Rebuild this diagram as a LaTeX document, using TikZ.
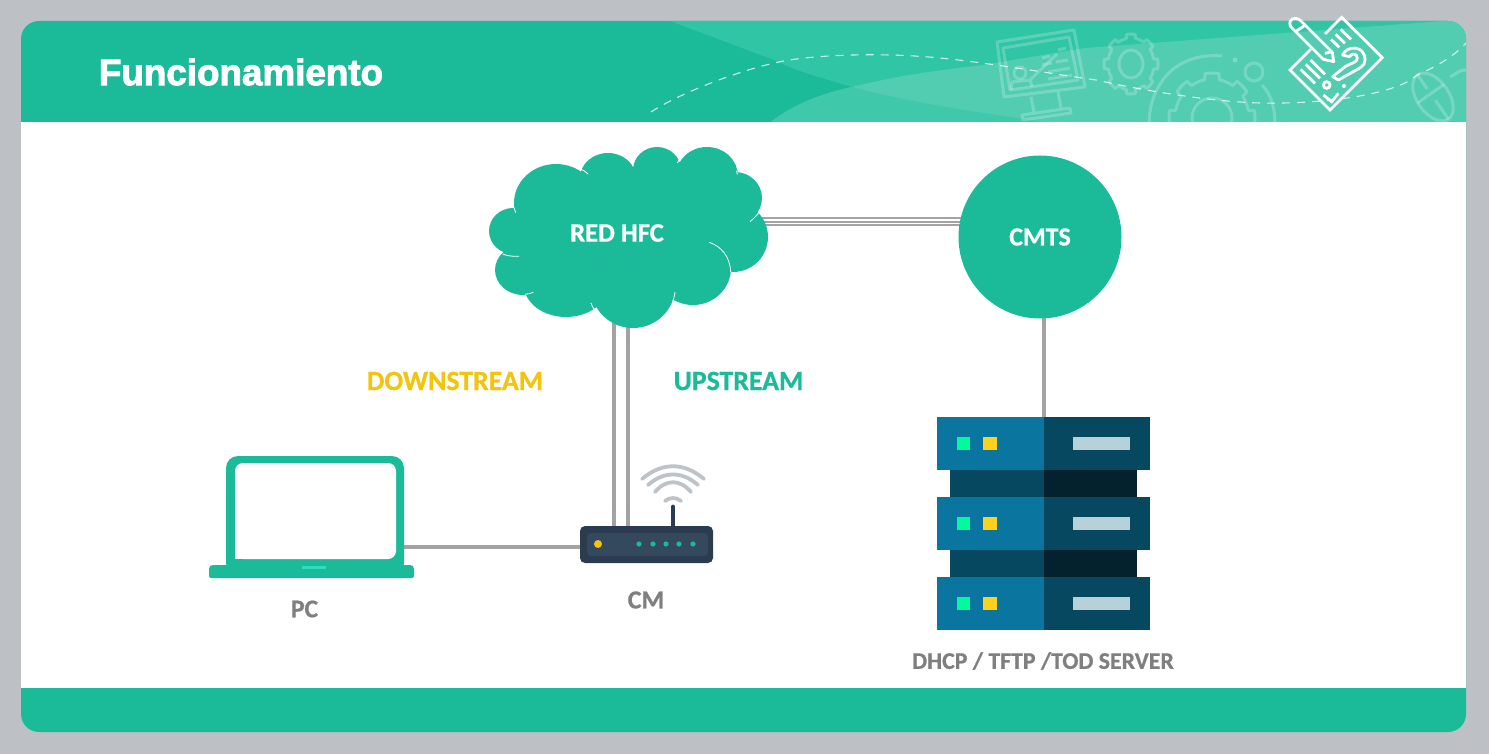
\documentclass[tikz,border=0pt]{standalone}
\usepackage{fontspec}
\setmainfont[BoldFeatures={FakeBold=0.7}]{Carlito}
\newfontfamily\titlefont[FakeBold=2.6]{Liberation Sans Bold}
\usetikzlibrary{calc}
\definecolor{bgray}{HTML}{BDC1C5}
\definecolor{teal1}{HTML}{1BBB99}
\definecolor{teal2}{HTML}{30C5A5}
\definecolor{teal3}{HTML}{52CDB1}
\definecolor{teal4}{HTML}{3FC9AA}
\definecolor{slot}{HTML}{2DDDC0}
\definecolor{wire}{HTML}{A3A3A3}
\definecolor{lab}{HTML}{7F7F7F}
\definecolor{gold}{HTML}{F1C40F}
\definecolor{srvL}{HTML}{0A76A0}
\definecolor{srvR}{HTML}{05485F}
\definecolor{srvD}{HTML}{03222E}
\definecolor{srvG}{HTML}{00FA9C}
\definecolor{srvY}{HTML}{FFD01E}
\definecolor{srvB}{HTML}{B6D2D8}
\definecolor{rtA}{HTML}{2C3C50}
\definecolor{rtB}{HTML}{34495E}
\definecolor{wifi}{HTML}{BDC3C7}
\tikzset{
  wireline/.style={draw=wire,line width=1.7pt},
  lbl/.style={inner sep=0pt,font=\fontsize{13}{15}\selectfont\bfseries},
  ghost/.style={draw=white,draw opacity=.22,line width=1.5pt,line join=round},
  iconline/.style={draw=white,line width=1.4pt,line join=miter,line cap=butt},
  cloudarc/.style={draw=white,line width=.4pt}
}
\begin{document}
\begin{tikzpicture}[x=0.5pt,y=-0.5pt]
\useasboundingbox (0,0) rectangle (1489,754);
\fill[bgray] (0,0) rectangle (1489,754);
\fill[teal1,rounded corners=9pt] (21,21) rectangle (1466,732);
\fill[white] (21,122) rectangle (1466,688);
% header art
\begin{scope}
\clip[rounded corners=9pt] (21,21) -- (1466,21) -- (1466,140) -- (21,140) -- cycle;
\clip (21,21) rectangle (1466,122);
\fill[teal2] (670,21) -- (774,60) .. controls (800,73) and (830,80) .. (852,87) .. controls (920,105) and (980,112) .. (1042,122) -- (1466,122) -- (1466,21) -- cycle;
\fill[teal3] (771,122) .. controls (795,103) and (825,93) .. (852,87) .. controls (900,75) and (940,70) .. (983,65) -- (1085,48) -- (1444,21) -- (1466,21) -- (1466,122) -- cycle;
\fill[teal4] (771,122) .. controls (795,103) and (825,93) .. (852,87) .. controls (920,105) and (980,112) .. (1042,122) -- cycle;
\draw[white,opacity=.75,line width=.55pt,dash pattern=on 4pt off 3.5pt] (651,112) .. controls (680,93) and (740,70) .. (779,62) .. controls (810,55) and (880,52) .. (940,58) .. controls (990,63) and (1040,72) .. (1096,80) .. controls (1150,92) and (1230,105) .. (1283,103) .. controls (1340,102) and (1400,92) .. (1417,75) .. controls (1440,65) and (1455,55) .. (1466,43);
% monitor
\draw[ghost] (997,42) -- (1074,30) -- (1085,87) -- (1004,97) -- cycle;
\draw[ghost] (1003,48) -- (1069,37) -- (1078,80) -- (1010,90) -- cycle;
\draw[ghost] (1031,97) -- (1034,112) (1058,92) -- (1061,108) (1022,115) -- (1070,108) -- (1071,113) -- (1023,120) -- cycle;
\draw[ghost] (1020,73) circle (6);
\draw[ghost] (1011,90) -- (1012,82) -- (1030,80) -- (1032,87) (1030,80) -- (1057,54);
\draw[ghost] (1042,58) -- (1050,56) (1042,65) -- (1052,63) (1058,50) -- (1066,48) (1056,62) -- (1068,60) (1048,72) -- (1070,68) (1048,79) -- (1072,75);
% gears
\draw[ghost] plot[variable=\t,samples=193,domain=0:360] ({1131+(23+4*(cos(8*\t)>0))*cos(\t)},{64+(26+4*(cos(8*\t)>0))*sin(\t)}) -- cycle;
\draw[ghost] (1131,64) ellipse (12 and 14);
\draw[ghost] plot[variable=\t,samples=193,domain=0:360] ({1212+(37+6*(cos(8*\t)>0))*cos(\t)},{118+(39+6*(cos(8*\t)>0))*sin(\t)}) -- cycle;
\draw[ghost] (1212,118) circle (20);
\draw[ghost] (1149,125) .. controls (1149,85) and (1175,52) .. (1222,56);
\draw[ghost] (1262,85) .. controls (1272,95) and (1275,110) .. (1275,125);
\draw[ghost] (1254,72) circle (9);
\fill[white,opacity=.25] (1235,60) circle (2.5);
% mouse
\begin{scope}[shift={(1433,97)},rotate=35]
\draw[ghost] (0,0) ellipse (16 and 27);
\draw[ghost] (-16,-4) -- (16,-4) (0,-27) -- (0,-10) (0,4) -- (0,27);
\end{scope}
\draw[ghost] (1450,77) .. controls (1455,75) and (1458,70) .. (1466,70);
\end{scope}
% question icon
\begin{scope}[shift={(1270,10)},x=0.16667pt,y=-0.16667pt]
\draw[iconline] (122,118) -- (60,180) -- (180,300) -- (337,143) -- (215,22) -- (165,72);
\draw[iconline,line join=round] (160,148) -- (62,50) .. controls (55,38) and (62,25) .. (75,25) .. controls (82,25) and (88,28) .. (92,32) -- (187,127) -- (191,155) -- (160,148) -- cycle;
\draw[iconline] (75,66) -- (108,44) (165,130) -- (185,125);
\draw[iconline] (183,88) -- (208,112) (197,73) -- (225,100) (212,58) -- (243,88);
\draw[iconline] (92,178) -- (135,220) (107,163) -- (150,205) (122,150) -- (165,193);
\draw[iconline,line join=round] (218,135) .. controls (230,105) and (285,105) .. (285,150) .. controls (285,170) and (265,175) .. (250,185) -- (205,210) -- (188,200) -- (225,170) .. controls (240,160) and (262,158) .. (262,145) .. controls (262,130) and (245,128) .. (238,140) -- (218,135) -- cycle;
\draw[iconline] (170,225) circle (10);
\draw[iconline] (160,255) -- (185,275) -- (205,250);
\fill[white] (222,228) circle (6);
\end{scope}
% title
\node[inner sep=0pt,anchor=west,white,font=\titlefont\fontsize{18.4}{20}\selectfont] (title) at (98.5,72) {Funcionamiento};
% connector end points
\coordinate (hfcA) at (760,218); \coordinate (hfcB) at (760,222); \coordinate (hfcC) at (760,225.5);
\coordinate (cmtsA) at (965,218); \coordinate (cmtsB) at (965,222); \coordinate (cmtsC) at (965,225.5);
\coordinate (hfcD) at (614,320); \coordinate (hfcU) at (628,320);
\coordinate (cmD) at (614,527); \coordinate (cmU) at (628,527);
\coordinate (pcR) at (404,547); \coordinate (cmL) at (581,547);
\coordinate (cmtsS) at (1044,315); \coordinate (srvT) at (1044,418);
\draw[draw=wire,line width=1pt] (hfcA) -- (cmtsA) (hfcB) -- (cmtsB) (hfcC) -- (cmtsC);
\draw[wireline] (hfcD) -- (cmD) (hfcU) -- (cmU) (pcR) -- (cmL) (cmtsS) -- (srvT);
% cloud
\fill[teal1] (556,203) ellipse (42 and 39) (608,178) ellipse (28 and 25) (657,170) ellipse (24 and 23) (707,176) ellipse (31 and 29) (735,198) ellipse (27 and 26) (733,237) circle (35) (693,268) ellipse (38 and 37) (633,287) ellipse (42 and 41) (566,285) ellipse (42 and 32) (523,270) ellipse (28 and 25) (513,231) ellipse (24 and 23);
\fill[teal1] (625,235) ellipse (115 and 68);
\begin{scope}[shift={(480,140)},x=0.16667pt,y=-0.16667pt]
\draw[cloudarc] (102,203) -- (107,218);
\draw[cloudarc] (68,342) .. controls (85,349) and (100,349) .. (117,349);
\draw[cloudarc] (135,463) .. controls (145,462) and (152,460) .. (160,457);
\draw[cloudarc] (332,488) .. controls (336,498) and (340,505) .. (346,513);
\draw[cloudarc] (585,456) .. controls (584,465) and (582,475) .. (578,484);
\draw[cloudarc] (688,307) .. controls (725,320) and (750,350) .. (752,396);
\draw[cloudarc] (810,245) .. controls (822,235) and (832,225) .. (840,212);
\draw[cloudarc] (770,92) -- (772,104);
\draw[cloudarc] (592,68) -- (605,50);
\draw[cloudarc] (458,78) -- (462,62);
\draw[cloudarc] (300,86) .. controls (310,90) and (318,96) .. (324,102);
\end{scope}
\node[lbl,white,font=\fontsize{13.3}{15}\selectfont\bfseries] (hfc) at (617,233) {RED HFC};
% CMTS
\node[circle,fill=teal1,minimum size=81.5pt,inner sep=0pt,text=white,lbl] (cmts) at (1040,237) {CMTS};
% labels
\node[lbl,gold,font=\fontsize{13.9}{15}\selectfont\bfseries] (down) at (455,381) {DOWNSTREAM};
\node[lbl,teal1,font=\fontsize{13.9}{15}\selectfont\bfseries] (up) at (738.5,381) {UPSTREAM};
\node[lbl,lab,font=\fontsize{12.8}{15}\selectfont\bfseries] (pc) at (304.5,609) {PC};
\node[lbl,lab] (cm) at (646,600) {CM};
\node[lbl,lab,font=\fontsize{11.9}{14}\selectfont\bfseries] (srv) at (1043,661) {DHCP / TFTP /TOD SERVER};
% laptop
\fill[teal1,rounded corners=6pt] (226,456) rectangle (404,575);
\fill[white,rounded corners=4pt] (235,463) -- (396,463) -- (396,559) -- (235,559) -- cycle;
\fill[white] (235,545) rectangle (250,559);
\fill[teal1,rounded corners=1pt] (209,578) -- (209,567) -- (211,565) -- (412,565) -- (414,567) -- (414,578) -- cycle;
\fill[slot] (302,566) rectangle (326,569);
% router
\draw[rtA,line width=2.4pt,line cap=round] (673,507) -- (673,528);
\fill[rtA,rounded corners=2.5pt] (580,526) rectangle (713,563);
\fill[rtB,rounded corners=2pt] (587,533) rectangle (708,556);
\fill[gold] (598,544) circle (4);
\foreach \px in {639,653,666,679,693} \fill[teal1] (\px,544) circle (2.6);
\begin{scope}[draw=wifi,line width=1.9pt,line cap=round]
\draw (642,479) .. controls (662,462) and (684,462) .. (704,479);
\draw (648,485) .. controls (664,471) and (682,471) .. (698,485);
\draw (655,492) .. controls (666,479) and (680,479) .. (691,492);
\draw (665,501) .. controls (670,497) and (676,497) .. (681,501);
\end{scope}
% server
\foreach \u in {0,80,160} {
  \fill[srvL] (937,417+\u) rectangle (1043.5,470+\u);
  \fill[srvR] (1043.5,417+\u) rectangle (1150,470+\u);
  \fill[srvG] (957,437+\u) rectangle (970,450+\u);
  \fill[srvY] (983,437+\u) rectangle (997,450+\u);
  \fill[srvB] (1073,437+\u) rectangle (1130,450+\u);
}
\foreach \u in {0,80} {
  \fill[srvR] (950,470+\u) rectangle (1043.5,497+\u);
  \fill[srvD] (1043.5,470+\u) rectangle (1137,497+\u);
}
\end{tikzpicture}
\end{document}
